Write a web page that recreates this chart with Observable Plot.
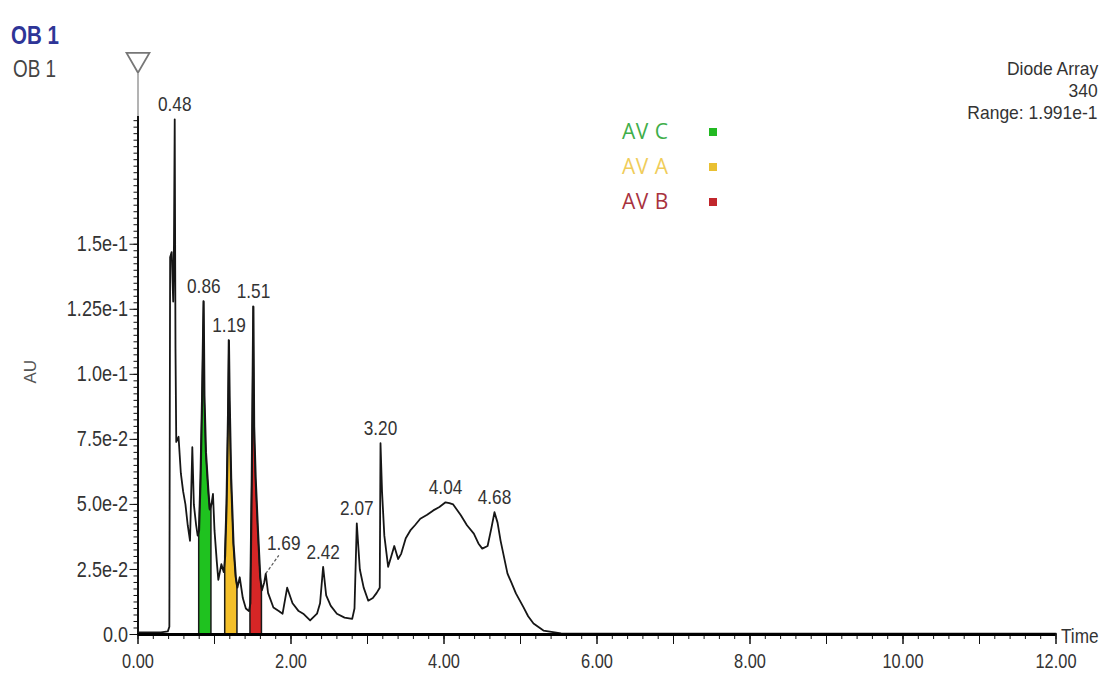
<!DOCTYPE html>
<html><head><meta charset="utf-8">
<script src="https://cdn.jsdelivr.net/npm/d3@7"></script>
<script src="https://cdn.jsdelivr.net/npm/@observablehq/plot@0.6"></script>
<style>
body{margin:0;background:#fff;}
#wrap{position:relative;width:1104px;height:678px;overflow:hidden;background:#fff;}
.t{position:absolute;font-family:"Liberation Sans",Arial,sans-serif;color:#333;white-space:nowrap;line-height:1;}
.lg{position:absolute;font-family:"Open Sans",sans-serif;font-size:21px;line-height:1;white-space:nowrap;letter-spacing:0.5px;}
.sq{position:absolute;width:8px;height:8px;}
</style></head><body><div id="wrap"></div>
<script>
// ---- data ----
const times = [0.00,0.30,0.39,0.41,0.42,0.44,0.46,0.47,0.48,0.49,0.50,0.53,0.56,0.59,0.62,0.65,0.68,0.70,0.71,0.73,0.76,0.78,
  0.80,0.82,0.84,0.86,0.87,0.89,0.92,0.94,0.96,0.98,1.00,1.03,1.05,1.09,1.12,
  1.14,1.16,1.18,1.19,1.20,1.22,1.25,1.28,1.30,1.33,1.37,1.41,1.45,
  1.47,1.49,1.51,1.52,1.54,1.57,1.60,1.62,1.65,1.67,1.70,1.77,1.84,1.89,1.95,2.02,2.10,2.16,2.25,2.34,2.38,2.42,2.46,2.52,2.60,2.70,2.80,2.83,2.86,2.90,2.95,3.01,3.07,3.12,3.16,3.17,3.19,3.22,3.27,3.31,3.35,3.40,3.44,3.50,3.56,3.62,3.69,3.78,3.86,3.94,4.02,4.07,4.12,4.22,4.30,4.39,4.45,4.50,4.57,4.62,4.66,4.70,4.74,4.83,4.88,4.94,5.04,5.10,5.17,5.30,5.53,6.00,12.00];
const values = [0.0008,0.0008,0.0012,0.003,0.145,0.147,0.128,0.150,0.198,0.110,0.074,0.076,0.062,0.055,0.050,0.042,0.036,0.060,0.072,0.050,0.042,0.038,
  0.040,0.060,0.090,0.128,0.092,0.070,0.056,0.048,0.050,0.054,0.040,0.028,0.021,0.027,0.024,
  0.030,0.050,0.085,0.113,0.090,0.060,0.035,0.022,0.018,0.022,0.014,0.010,0.009,
  0.012,0.060,0.126,0.080,0.060,0.040,0.022,0.017,0.020,0.0234,0.016,0.0104,0.009,0.008,0.018,0.012,0.009,0.008,0.0054,0.008,0.012,0.026,0.015,0.011,0.008,0.0065,0.006,0.010,0.0427,0.025,0.018,0.013,0.014,0.016,0.018,0.0735,0.055,0.038,0.026,0.030,0.034,0.029,0.031,0.037,0.040,0.042,0.0445,0.046,0.0477,0.049,0.0508,0.0505,0.050,0.0458,0.042,0.0388,0.035,0.033,0.034,0.041,0.047,0.043,0.036,0.0234,0.020,0.0158,0.0104,0.007,0.0042,0.0015,0.0004,0.0003,0.0003];

const peakTimes  = [0.48, 0.86, 1.19, 1.51, 1.67, 2.42, 2.86, 3.17, 4.02, 4.66];
const peakValues = [0.198,0.128,0.113,0.126,0.0234,0.026,0.0427,0.0735,0.0508,0.047];
const peakLabels = ["0.48","0.86","1.19","1.51","1.69","2.42","2.07","3.20","4.04","4.68"];
const peakLeader = [false,false,false,false,true,false,false,false,false,false];

const fillNames = ["AV C","AV A","AV B"];
const fillStart = [0.80, 1.14, 1.47];
const fillEnd   = [0.96, 1.30, 1.62];

const yTicks = [0, 0.025, 0.05, 0.075, 0.1, 0.125, 0.15];
const yTickLabels = ["0.0","2.5e-2","5.0e-2","7.5e-2","1.0e-1","1.25e-1","1.5e-1"];
const xTicks = [0, 2, 4, 6, 8, 10, 12];
const xTickLabels = ["0.00","2.00","4.00","6.00","8.00","10.00","12.00"];
const yMax = 0.1991;

const infoLines = ["Diode Array", "340", "Range: 1.991e-1"];

// ---- styles ----
const fillPalette = ["#1fc21f", "#f3bf2a", "#d62626"];
const legendText = ["#3fae4a", "#f0cd5a", "#a8323e"];
const legendSq = ["#22b922", "#e9c032", "#c1262c"];
const sans = '"Liberation Sans", Arial, sans-serif';
const squeeze = 0.82;

const data = times.map((t, i) => ({t, v: values[i]}));
const peaks = peakTimes.map((t, i) => ({t, v: peakValues[i], label: peakLabels[i], leader: peakLeader[i]}));
const fills = fillNames.map((name, i) => ({name, start: fillStart[i], end: fillEnd[i], color: fillPalette[i]}));

const chart = Plot.plot({
  width: 1104, height: 678,
  marginLeft: 137.5, marginRight: 48.5, marginTop: 116, marginBottom: 44,
  x: {domain: [0, 12], label: null},
  y: {domain: [0, yMax], label: null},
  style: {fontFamily: sans, fontSize: "20px", color: "#333", background: "#fff", overflow: "visible"},
  marks: [
    Plot.ruleX([0], {stroke: "#9a9a9a", strokeWidth: 1.5, insetTop: -42}),
    Plot.ruleX([0], {stroke: "#111", strokeWidth: 2}),
    Plot.dot([0], {x: d => d, frameAnchor: "top", dy: -57, symbol: "triangle", r: 8.5, rotate: 180, stroke: "#777", strokeWidth: 1.8, fill: "#fff"}),
    Plot.axisY({ticks: d3.range(0, yMax, 0.0025), tickSize: 4, tickFormat: () => "", stroke: "#111"}),
    Plot.axisY({ticks: yTicks, tickSize: 8, tickPadding: 2, tickFormat: d => yTickLabels[yTicks.indexOf(d)], stroke: "#111", fontSize: 22}),
    Plot.axisX({ticks: d3.range(0, 12.001, 0.2), tickSize: 5, tickFormat: () => "", stroke: "#111"}),
    Plot.axisX({ticks: d3.range(0, 13, 1), tickSize: 10, tickFormat: () => "", stroke: "#111"}),
    Plot.axisX({ticks: xTicks, tickSize: 10, tickPadding: 9, tickFormat: d => xTickLabels[xTicks.indexOf(d)], stroke: "#111", fontSize: 20}),
    ...fills.map(f => Plot.areaY(data.filter(d => d.t >= f.start - 1e-9 && d.t <= f.end + 1e-9),
      {x: "t", y: "v", fill: f.color, stroke: "#1a1a1a", strokeWidth: 1.5})),
    Plot.lineY(data, {x: "t", y: "v", stroke: "#161616", strokeWidth: 1.8}),
    Plot.ruleY([0], {stroke: "#000", strokeWidth: 3}),
    Plot.text(peaks.filter(d => !d.leader), {x: "t", y: "v", text: "label", dy: -15, fontSize: 21, fill: "#333"}),
    Plot.link(peaks.filter(d => d.leader), {x1: "t", y1: "v", x2: d => d.t + 0.17, y2: d => d.v + 0.007, stroke: "#555", strokeDasharray: "3,2", strokeWidth: 1.2}),
    Plot.text(peaks.filter(d => d.leader), {x: "t", y: "v", text: "label", dx: 18, dy: -30, fontSize: 21, fill: "#333"}),
    Plot.text(["Time"], {frameAnchor: "bottom-right", text: d => d, textAnchor: "start", dx: 5, dy: 8, fontSize: 21, fill: "#333"}),
    Plot.text(["AU"], {frameAnchor: "left", text: d => d, rotate: -90, dx: -107, dy: 8, fontSize: 17, fill: "#555"})
  ]
});

// narrow the letterforms (the original uses a condensed face)
d3.select(chart).selectAll("text").each(function () {
  const tr = this.getAttribute("transform") || "";
  if (tr.includes("rotate")) return;
  if (tr) this.setAttribute("transform", tr + ` scale(${squeeze},1)`);
  else {
    const x = this.getAttribute("x") || 0, y = this.getAttribute("y") || 0;
    this.removeAttribute("x"); this.removeAttribute("y");
    this.setAttribute("transform", `translate(${x},${y}) scale(${squeeze},1)`);
  }
});

const wrap = document.getElementById("wrap");
wrap.appendChild(chart);

function addText(txt, cls, css) {
  const d = document.createElement("div");
  d.className = cls;
  d.textContent = txt;
  Object.assign(d.style, css);
  wrap.appendChild(d);
  return d;
}
const sq = `scaleX(${squeeze})`;
addText("OB 1", "t", {left: "11px", top: "23px", fontSize: "25px", fontWeight: "bold", color: "#2e3597", transform: sq, transformOrigin: "left"});
addText("OB 1", "t", {left: "13px", top: "58px", fontSize: "23px", color: "#444", transform: sq, transformOrigin: "left"});
infoLines.forEach((line, i) => {
  addText(line, "t", {right: "6px", top: (59 + i * 22) + "px", fontSize: "19px", textAlign: "right", transform: "scaleX(0.92)", transformOrigin: "right"});
});

const legendTop = [121, 156, 191];
fillNames.forEach((n, i) => {
  addText(n, "lg", {left: "622px", top: legendTop[i] + "px", color: legendText[i]});
  const s = document.createElement("div");
  s.className = "sq";
  Object.assign(s.style, {left: "709px", top: (legendTop[i] + 7) + "px", background: legendSq[i]});
  wrap.appendChild(s);
});
</script>
</body></html>
